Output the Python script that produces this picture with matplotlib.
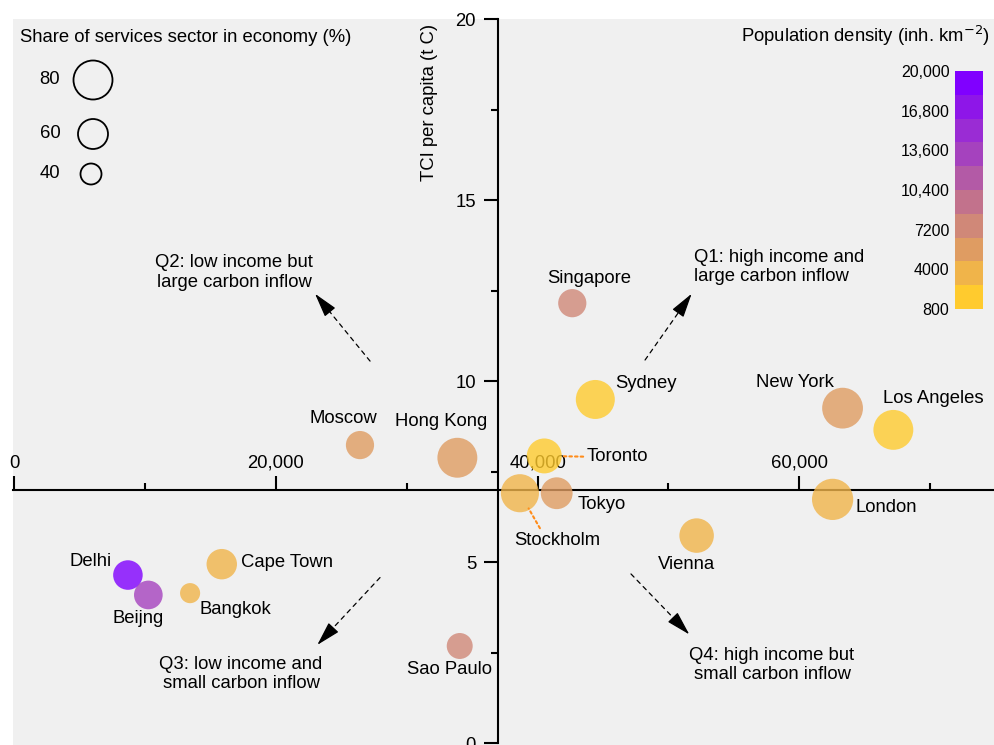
import numpy as np
import matplotlib
matplotlib.use('Agg')
import matplotlib.pyplot as plt
from matplotlib import colors
from matplotlib.colorbar import ColorbarBase
from matplotlib.ticker import FuncFormatter

plt.rcParams['font.family'] = ['Liberation Sans', 'DejaVu Sans']
plt.rcParams['font.size'] = 13.3

# city data
cities = ['Delhi', 'Beijng', 'Bangkok', 'Cape Town', 'Sao Paulo', 'Moscow', 'Hong Kong',
          'Singapore', 'Sydney', 'Toronto', 'Tokyo', 'Stockholm', 'New York', 'Los Angeles',
          'London', 'Vienna']
gdp = [8700, 10260, 13450, 15870, 34050, 26430, 33870,
       42650, 44410, 40510, 41460, 38650, 63300, 67180,
       62540, 52150]
tci = [4.64, 4.09, 4.14, 4.94, 2.68, 8.23, 7.88,
       12.15, 9.49, 7.93, 6.90, 6.90, 9.25, 8.65,
       6.73, 5.73]
services = [59, 57, 38, 61, 51, 56, 82,
            56, 80, 71, 64, 78, 84, 82,
            85, 70]
density = [19000, 13000, 3500, 3800, 7500, 5000, 6400,
           7800, 1500, 1800, 6200, 3600, 5800, 2500,
           4500, 4200]

# label offsets (points) and alignment relative to each marker
label_dx = [-26.6, -7.2, 32.4, 13.7, -7.2, -12.2, -11.5, 12.2, 14.4, 30.2, 15.1, 26.6, -34.6, 28.8, 16.6, -7.2]
label_dy = [9.4, -16.6, -11.5, 1.4, -16.6, 19.4, 25.9, 18.0, 11.5, -0.7, -7.9, -33.8, 18.7, 22.3, -5.8, -20.9]
label_ha = ['center', 'center', 'center', 'left', 'center', 'center', 'center', 'center',
            'left', 'left', 'left', 'center', 'center', 'center', 'left', 'center']

legend_vals = [80, 60, 40]

cbar_colors = ['#ffcb2e', '#f0b44a', '#df9c62', '#d08878', '#c2728c',
               '#b35aa6', '#a542be', '#9a2cd4', '#8e16e8', '#8000ff']
cbar_bounds = np.linspace(800, 20000, 11)
cbar_ticks = [800, 4000, 7200, 10400, 13600, 16800, 20000]
cbar_labels = ['800', '4000', '7200', '10,400', '13,600', '16,800', '20,000']

quad_text = ['Q1: high income and\nlarge carbon inflow', 'Q2: low income but\nlarge carbon inflow',
             'Q3: low income and\nsmall carbon inflow', 'Q4: high income but\nsmall carbon inflow']
quad_xy = [(51950, 13.15), (16810, 13.0), (17340, 1.91), (57910, 2.15)]
quad_ha = ['left', 'center', 'center', 'center']
arrow_tail = [(48210, 10.58), (27200, 10.55), (27960, 4.57), (47135, 4.67)]
arrow_tip = [(51770, 12.41), (22995, 12.41), (23170, 2.71), (51590, 3.00)]


def marker_size(v):
    r = 0.225 * v + 1.5  # radius in pixels
    return (2 * r * 0.72) ** 2


cmap = colors.ListedColormap(cbar_colors)
norm = colors.BoundaryNorm(cbar_bounds, cmap.N)

fig = plt.figure(figsize=(9.94, 7.45), dpi=100)
ax = fig.add_axes([13 / 994, 0, 981 / 994, 726 / 745])
ax.set_facecolor('#f0f0f0')
ax.set_xlim(-80, 74870)
ax.set_ylim(-0.055, 20)

# axes crossing in the middle
ax.spines['bottom'].set_visible(False)
ax.spines['right'].set_visible(False)
ax.spines['top'].set_position(('data', 7))
ax.spines['left'].set_position(('data', 37000))
ax.spines['left'].set_bounds(0, 20)
for s in ['top', 'left']:
    ax.spines[s].set_linewidth(1.5)
ax.xaxis.set_ticks_position('top')
ax.yaxis.set_ticks_position('left')
ax.set_xticks([0, 20000, 40000, 60000])
ax.set_xticks([10000, 30000, 50000, 70000], minor=True)
ax.set_yticks([0, 5, 10, 15, 20])
ax.set_yticks([2.5, 7.5, 12.5, 17.5], minor=True)
ax.xaxis.set_major_formatter(FuncFormatter(lambda v, p: '{:,.0f}'.format(v)))
ax.tick_params(which='major', length=10, width=1.5, labelsize=13.3)
ax.tick_params(which='minor', length=5, width=1.5)
ax.tick_params(axis='x', pad=3)
ax.tick_params(axis='y', pad=6)

ax.set_ylabel('TCI per capita (t C)', fontsize=13.3)
ax.yaxis.set_label_coords((438 - 13) / 981, (745 - 102) / 726)

ax.scatter(gdp, tci, s=[marker_size(v) for v in services], c=density, cmap=cmap, norm=norm,
           alpha=0.8, edgecolors='none', zorder=3)

for i, name in enumerate(cities):
    ax.annotate(name, (gdp[i], tci[i]), xytext=(label_dx[i], label_dy[i]), textcoords='offset points',
                ha=label_ha[i], va='center', fontsize=13.3, zorder=4)

# orange leader lines for Toronto and Stockholm
i = cities.index('Toronto')
ax.annotate('', (gdp[i], tci[i]), xytext=(28, -0.5), textcoords='offset points',
            arrowprops=dict(arrowstyle='-', ls=(0, (1.2, 1.5)), lw=1.5, color='#ff8c1a', shrinkA=0, shrinkB=13))
i = cities.index('Stockholm')
ax.annotate('', (gdp[i], tci[i]), xytext=(14.4, -25.2), textcoords='offset points',
            arrowprops=dict(arrowstyle='-', ls=(0, (1.2, 1.5)), lw=1.5, color='#ff8c1a', shrinkA=0, shrinkB=12.6))

# quadrant notes with dashed arrows (dashed shaft + solid head)
for k in range(4):
    ax.text(quad_xy[k][0], quad_xy[k][1], quad_text[k], ha=quad_ha[k], va='center',
            multialignment=quad_ha[k], fontsize=13.3)
    tail = np.array(arrow_tail[k])
    tip = np.array(arrow_tip[k])
    ax.annotate('', xy=tip, xytext=tail,
                arrowprops=dict(arrowstyle='-', ls=(0, (3.5, 3.5)), lw=0.9, color='black',
                                shrinkA=0, shrinkB=8))
    ax.annotate('', xy=tip, xytext=tip - 0.22 * (tip - tail),
                arrowprops=dict(arrowstyle='-|>,head_length=0.75,head_width=0.21', lw=0.9,
                                color='black', mutation_scale=20, shrinkA=0, shrinkB=0))

# size legend
fig.text(20 / 994, 1 - 37 / 745, 'Share of services sector in economy (%)', ha='left', va='center', fontsize=13.3)
leg_px = [(93, 80), (93, 134), (91, 174)]
for v, (px, py) in zip(legend_vals, leg_px):
    ax.scatter([px / 994], [1 - py / 745], s=marker_size(v), facecolors='none', edgecolors='black',
               linewidths=1.3, transform=fig.transFigure, zorder=3, clip_on=False)
    fig.text(50 / 994, 1 - py / 745, str(v), ha='center', va='center', fontsize=13.3)

# colour bar
fig.text(990 / 994, 1 - 36 / 745, 'Population density (inh. km$^{-2}$)', ha='right', va='center', fontsize=13.3)
cax = fig.add_axes([955 / 994, 1 - 309 / 745, 28 / 994, 238 / 745])
cb = ColorbarBase(cax, cmap=cmap, norm=norm, orientation='vertical', drawedges=False)
cb.outline.set_visible(False)
cb.minorticks_off()
cb.set_ticks(cbar_ticks)
cb.set_ticklabels(cbar_labels)
cax.yaxis.set_ticks_position('left')
cax.tick_params(which='both', length=0, labelsize=11.5, pad=4)

fig.savefig('out.png', dpi=100, facecolor='white')
